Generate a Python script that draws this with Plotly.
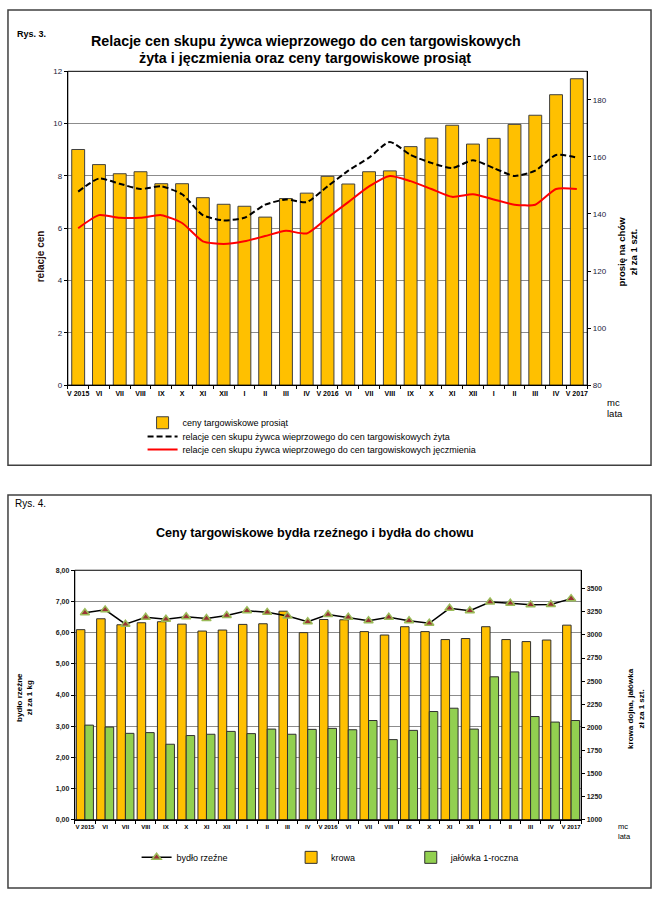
import plotly.graph_objects as go

# ---------------- data ----------------
months = ["V 2015", "VI", "VII", "VIII", "IX", "X", "XI", "XII", "I", "II", "III", "IV",
          "V 2016", "VI", "VII", "VIII", "IX", "X", "XI", "XII", "I", "II", "III", "IV", "V 2017"]

# Rys. 3
prosieta = [162.6, 157.3, 154.1, 154.8, 150.6, 150.6, 145.7, 143.4, 142.7, 138.9, 145.4, 147.3,
            153.2, 150.5, 154.8, 155.1, 163.6, 166.6, 171.1, 164.5, 166.5, 171.4, 174.6, 181.8, 187.4]
rel_zyto = [7.4, 7.9, 7.7, 7.5, 7.6, 7.3, 6.5, 6.3, 6.4, 6.9, 7.1, 7.0,
            7.6, 8.2, 8.7, 9.3, 8.8, 8.5, 8.3, 8.6, 8.3, 8.0, 8.2, 8.8, 8.7]
rel_jeczmien = [6.0, 6.5, 6.4, 6.4, 6.5, 6.2, 5.5, 5.4, 5.5, 5.7, 5.9, 5.8,
                6.4, 7.0, 7.6, 8.0, 7.8, 7.5, 7.2, 7.3, 7.1, 6.9, 6.9, 7.5, 7.5]

# Rys. 4
bydlo_rzezne = [6.64, 6.73, 6.27, 6.49, 6.43, 6.51, 6.45, 6.55, 6.70, 6.65, 6.53, 6.35,
                6.58, 6.49, 6.38, 6.49, 6.38, 6.30, 6.78, 6.70, 6.98, 6.94, 6.89, 6.90, 7.09]
krowa = [3057, 3175, 3110, 3132, 3143, 3117, 3042, 3053, 3114, 3121, 3257, 3025,
         3167, 3164, 3036, 2999, 3089, 3036, 2950, 2961, 3089, 2950, 2928, 2945, 3106]
jalowka = [2024, 2003, 1935, 1943, 1817, 1911, 1925, 1956, 1932, 1981, 1925, 1978,
           1989, 1974, 2074, 1867, 1967, 2171, 2207, 1981, 2547, 2600, 2117, 2057, 2074]

# ---------------- helpers ----------------
W, H = 659, 897
def px(x): return x / W
def py(y): return 1 - y / H

FONT = "Liberation Sans, Arial, sans-serif"
xs = list(range(len(months)))
ORANGE = "#FFC000"
GREEN = "#92D050"
bold_months = ["<b>%s</b>" % m for m in months]

fig = go.Figure()

# ---- chart 1 ----
fig.add_trace(go.Bar(x=xs, y=prosieta, name="ceny targowiskowe prosiąt",
                     xaxis="x", yaxis="y", width=0.62, offset=-0.31,
                     marker=dict(color=ORANGE, line=dict(color="#404040", width=1)),
                     legend="legend"))
fig.add_trace(go.Scatter(x=xs, y=rel_zyto, mode="lines",
                         name="relacje cen skupu żywca wieprzowego do cen targowiskowych żyta",
                         xaxis="x", yaxis="y2",
                         line=dict(color="black", width=2, dash="6px,3px", shape="spline", smoothing=0.6),
                         legend="legend2"))
fig.add_trace(go.Scatter(x=xs, y=rel_jeczmien, mode="lines",
                         name="relacje cen skupu żywca wieprzowego do cen targowiskowych jęczmienia",
                         xaxis="x", yaxis="y2",
                         line=dict(color="#FF0000", width=2, shape="spline", smoothing=0.6),
                         legend="legend3"))

# ---- chart 2 ----
fig.add_trace(go.Scatter(x=xs, y=bydlo_rzezne, mode="lines+markers", name="bydło rzeźne",
                         xaxis="x2", yaxis="y4",
                         line=dict(color="black", width=1.5),
                         marker=dict(symbol="triangle-up", size=8, color="#993333",
                                     line=dict(color="#9BBB59", width=1.5)),
                         legend="legend4"))
fig.add_trace(go.Bar(x=xs, y=krowa, name="krowa", xaxis="x2", yaxis="y3",
                     width=0.42, offset=-0.42,
                     marker=dict(color=ORANGE, line=dict(color="#303030", width=1)),
                     legend="legend5"))
fig.add_trace(go.Bar(x=xs, y=jalowka, name="jałówka 1-roczna", xaxis="x2", yaxis="y3",
                     width=0.42, offset=0.0,
                     marker=dict(color=GREEN, line=dict(color="#303030", width=1)),
                     legend="legend6"))

xcommon = dict(range=[-0.5, len(months) - 0.5], tickmode="array", tickvals=xs, ticktext=bold_months,
               showline=True, linecolor="black", linewidth=1, showgrid=False, zeroline=False,
               ticks="", fixedrange=True,
               minor=dict(tickmode="array", tickvals=[i - 0.5 for i in range(len(months) + 1)],
                          ticks="outside", ticklen=3, tickcolor="black", showgrid=False))

def leg(x, y):
    return dict(orientation="v", x=px(x), y=py(y), xanchor="left", yanchor="middle",
                bgcolor="rgba(0,0,0,0)", font=dict(size=9, family=FONT),
                itemwidth=30, tracegroupgap=0)

fig.update_layout(
    width=W, height=H, margin=dict(l=0, r=0, t=0, b=0),
    paper_bgcolor="white", plot_bgcolor="white",
    font=dict(family=FONT, color="black"),
    separators=", ",
    barmode="overlay",
    showlegend=True,
    xaxis=dict(xcommon, domain=[px(67), px(588)], anchor="y",
               tickfont=dict(size=7, family=FONT), ticklabelstandoff=1),
    yaxis=dict(domain=[py(385), py(68)], anchor="x", side="right", range=[80, 190],
               tickmode="array", tickvals=[80, 100, 120, 140, 160, 180],
               showgrid=False, zeroline=False, showline=True, linecolor="black",
               ticks="outside", ticklen=3, tickcolor="black",
               tickfont=dict(size=8, color="#1a1a3a")),
    yaxis2=dict(overlaying="y", side="left", anchor="x", range=[0, 12], dtick=2, tick0=0,
                showgrid=True, gridcolor="#8c8c8c", gridwidth=1.3, zeroline=False,
                showline=True, linecolor="black", ticks="outside", ticklen=3, tickcolor="black",
                tickfont=dict(size=8, color="#1a1a3a")),
    xaxis2=dict(xcommon, domain=[px(74), px(582)], anchor="y3",
                tickfont=dict(size=6, family=FONT), ticklabelstandoff=1),
    yaxis3=dict(domain=[py(824), py(572)], anchor="x2", side="right", range=[1000, 3700],
                tick0=1000, dtick=250, tickformat="d",
                showgrid=False, zeroline=False, showline=True, linecolor="black",
                ticks="outside", ticklen=3, tickcolor="black",
                tickfont=dict(size=7, family="Liberation Sans, Arial", color="#1a1a1a", weight="bold")),
    yaxis4=dict(overlaying="y3", side="left", anchor="x2", range=[0, 8], dtick=1, tick0=0,
                tickformat=".2f",
                showgrid=True, gridcolor="#8c8c8c", gridwidth=1, zeroline=False,
                showline=True, linecolor="black", ticks="outside", ticklen=3, tickcolor="black",
                tickfont=dict(size=7, color="#1a1a1a", weight="bold")),
    legend=leg(142, 423),
    legend2=leg(142, 437),
    legend3=leg(142, 450),
    legend4=leg(136, 862),
    legend5=leg(291, 862),
    legend6=leg(411, 862),
)

# plot-area frames and outer borders
fig.add_shape(type="rect", xref="x domain", yref="y domain", x0=0, x1=1, y0=0, y1=1,
              line=dict(color="black", width=1), layer="above")
fig.add_shape(type="rect", xref="x2 domain", yref="y3 domain", x0=0, x1=1, y0=0, y1=1,
              line=dict(color="black", width=1), layer="above")
fig.add_shape(type="rect", xref="paper", yref="paper", x0=px(7), x1=px(652), y0=py(466), y1=py(6),
              line=dict(color="#404040", width=1.5))
fig.add_shape(type="rect", xref="paper", yref="paper", x0=px(7), x1=px(652), y0=py(893), y1=py(496),
              line=dict(color="#404040", width=1.5))

def ann(text, x, y, size, bold=False, angle=0, xanchor="center", color="black", align="center"):
    fig.add_annotation(text=("<b>%s</b>" % text) if bold else text, x=px(x), y=py(y),
                       xref="paper", yref="paper", showarrow=False, xanchor=xanchor,
                       yanchor="middle", textangle=angle, align=align,
                       font=dict(size=size, family=FONT, color=color))

ann("Rys. 3.", 14, 30, 9, bold=True, xanchor="left")
ann("Relacje cen skupu żywca wieprzowego do cen targowiskowych", 306, 37, 14.3, bold=True)
ann("żyta i jęczmienia oraz ceny targowiskowe prosiąt", 305, 55, 14.3, bold=True)
ann("relacje cen", 40, 255, 10, bold=True, angle=-90, color="#2a1010")
ann("prosię na chów<br>zł za 1 szt.", 628, 250, 9.5, bold=True, angle=-90)
ann("mc", 606, 403, 9.5, xanchor="left")
ann("lata", 606, 414, 9.5, xanchor="left")

ann("Rys. 4.", 12, 505, 10, xanchor="left")
ann("Ceny targowiskowe bydła rzeźnego i bydła do chowu", 315, 534, 12.6, bold=True)
ann("bydło rzeźne<br>zł za 1 kg", 24, 700, 8, bold=True, angle=-90)
ann("krowa dojna, jałówka<br>zł za 1 szt.", 637, 712, 8, bold=True, angle=-90)
ann("mc", 617, 831, 7.5, xanchor="left")
ann("lata", 617, 841, 7.5, xanchor="left")

fig.write_html("out.html", config={"displayModeBar": False},
               post_script="document.body.style.margin='0';")
